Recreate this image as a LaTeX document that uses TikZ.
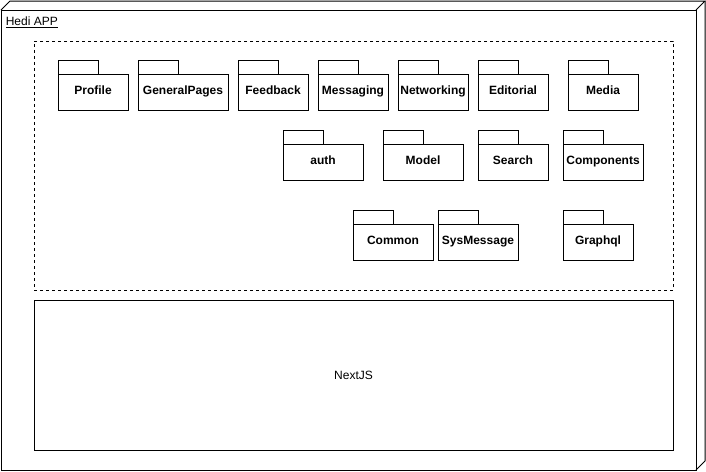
\documentclass[tikz,border=0pt]{standalone}
\usepackage{fontspec}
\setmainfont{Liberation Sans}
\begin{document}
\begin{tikzpicture}[x=0.75pt,y=-0.75pt,
  ln/.style={line width=0.75pt,draw=black},
  pkgline/.style={ln},
  pkgbody/.style={ln,rectangle,inner sep=0pt,minimum height=27pt},
  pkgtext/.style={anchor=base,inner sep=0pt,font=\bfseries\fontsize{9}{10}\selectfont},
  plaintext/.style={inner sep=0pt,font=\fontsize{9}{10}\selectfont}]
\useasboundingbox (0,0) rectangle (706,471);
% 3D node box
\draw[ln,fill=white] (1,10) rectangle (696,470);
\draw[ln,line join=miter] (1,10) -- (10,1) -- (705,1) -- (696,10);
\draw[ln,line join=miter] (705,1) -- (705,461) -- (696,470);
\node[plaintext,anchor=base west] (title) at (5.5,25) {\underline{Hedi APP}};
% dashed frame
\node[ln,dash pattern=on 2.25pt off 2.25pt,rectangle,inner sep=0pt,
  minimum width={639*0.75pt},minimum height={249*0.75pt}] (frame) at (353.5,165.5) {};
% NextJS
\node[ln,rectangle,inner sep=0pt,minimum width={639*0.75pt},minimum height={150*0.75pt},
  font=\fontsize{9}{10}\selectfont] (nextjs) at (353.5,375) {NextJS};
\newcommand\pkgbox[5]{%
  \draw[pkgline] (#2,#3) rectangle ({#2+40},{#3+14});
  \node[pkgbody,minimum width={#4*0.75pt}] (#1) at ({#2+#4/2},{#3+32}) {};
  \node[pkgtext] (#1-t) at ({#2+#4/2},{#3+34.5}) {#5};
}
\pkgbox{profile}{58}{60}{70}{Profile}
\pkgbox{generalpages}{138}{60}{90}{GeneralPages}
\pkgbox{feedback}{238}{60}{70}{Feedback}
\pkgbox{messaging}{318}{60}{70}{Messaging}
\pkgbox{networking}{398}{60}{70}{Networking}
\pkgbox{editorial}{478}{60}{70}{Editorial}
\pkgbox{media}{568}{60}{70}{Media}
\pkgbox{auth}{283}{130}{80}{auth}
\pkgbox{model}{383}{130}{80}{Model}
\pkgbox{search}{478}{130}{70}{Search}
\pkgbox{components}{563}{130}{80}{Components}
\pkgbox{common}{353}{210}{80}{Common}
\pkgbox{sysmessage}{438}{210}{80}{SysMessage}
\pkgbox{graphql}{563}{210}{70}{Graphql}
\end{tikzpicture}
\end{document}
